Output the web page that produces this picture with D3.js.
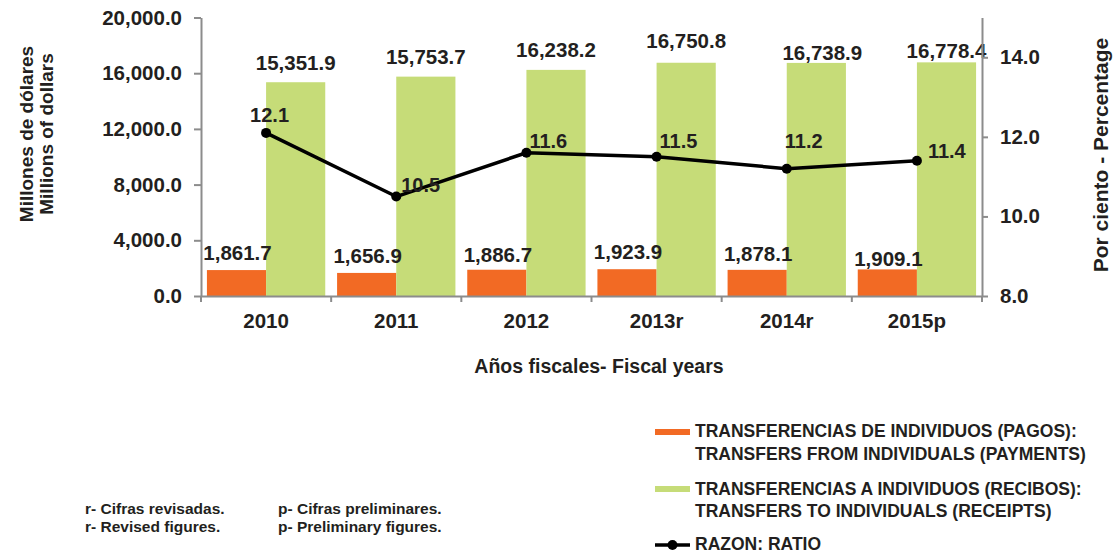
<!DOCTYPE html>
<html>
<head>
<meta charset="utf-8">
<script src="https://cdn.jsdelivr.net/npm/d3@7"></script>
<style>
  html, body { margin: 0; padding: 0; background: #fff; }
  svg { display: block; }
  text { font-family: "Liberation Sans", Arial, sans-serif; font-weight: bold; fill: #231f20; }
</style>
</head>
<body>
<svg id="chart" width="1115" height="555"></svg>
<script>
// data
const years = ['2010', '2011', '2012', '2013r', '2014r', '2015p']
const pagos = [1861.7, 1656.9, 1886.7, 1923.9, 1878.1, 1909.1]
const recibos = [15351.9, 15753.7, 16238.2, 16750.8, 16738.9, 16778.4]
const razon = [12.1, 10.5, 11.6, 11.5, 11.2, 11.4]
const leftTicks = [0, 4000, 8000, 12000, 16000, 20000]
const rightTicks = [8, 10, 12, 14]

// label nudges (layout only)
const pagosLabelDy = [-10, -10, -8, -10, -9, -3.5]
const recibosLabelDy = [-12, -13, -13, -15, -3, -4]
const recibosLabelDx = [0, 0, 0, 0, 6, 0]
const razonLabelNudge = [[-16, -11], [5, -5], [3, -5], [3, -9], [-2, -21], [11, -3]]

const ORANGE = '#f26a24'
const GREEN = '#c6dc78'
const AXIS = '#8c8c8c'

const svg = d3.select('#chart')
const fmt = d3.format(',.1f')

const x = d3.scaleBand().domain(years).range([201, 982]).padding(0)
const x1 = d3.scaleBand().domain(['pagos', 'recibos'])
	.range([0, x.bandwidth()]).paddingInner(0).paddingOuter(0.1)
const y = d3.scaleLinear().domain([0, 20000]).range([296, 17.5])
const y2 = d3.scaleLinear().domain([8, 15]).range([296, 17.5])

// bars
const groups = svg.append('g').selectAll('g')
	.data(years)
	.enter().append('g')
	.attr('transform', d => `translate(${x(d)},0)`)

groups.append('rect')
	.attr('x', x1('pagos'))
	.attr('width', x1.bandwidth())
	.attr('y', (d, i) => y(pagos[i]))
	.attr('height', (d, i) => y(0) - y(pagos[i]))
	.attr('fill', ORANGE)

groups.append('rect')
	.attr('x', x1('recibos'))
	.attr('width', x1.bandwidth())
	.attr('y', (d, i) => y(recibos[i]))
	.attr('height', (d, i) => y(0) - y(recibos[i]))
	.attr('fill', GREEN)

groups.append('text')
	.attr('x', x1('pagos') + x1.bandwidth() / 2 + 1)
	.attr('y', (d, i) => y(pagos[i]) + pagosLabelDy[i])
	.attr('text-anchor', 'middle')
	.style('font-size', '20.5px')
	.text((d, i) => fmt(pagos[i]))

groups.append('text')
	.attr('x', (d, i) => x1('recibos') + x1.bandwidth() / 2 + recibosLabelDx[i])
	.attr('y', (d, i) => y(recibos[i]) + recibosLabelDy[i])
	.attr('text-anchor', 'middle')
	.style('font-size', '20.5px')
	.text((d, i) => fmt(recibos[i]))

// axes
const leftAxis = svg.append('g')
	.attr('transform', 'translate(201,0)')
	.call(d3.axisLeft(y).tickValues(leftTicks).tickFormat(fmt)
		.tickSize(7).tickSizeOuter(0).tickPadding(12))

const rightAxis = svg.append('g')
	.attr('transform', 'translate(982,0)')
	.call(d3.axisRight(y2).tickValues(rightTicks).tickFormat(d3.format('.1f'))
		.tickSize(6).tickSizeOuter(0).tickPadding(12))

const bottomAxis = svg.append('g')
	.attr('transform', 'translate(0,296)')
	.call(d3.axisBottom(x).tickSize(0).tickPadding(17.5))

// category boundary ticks
bottomAxis.selectAll('.bound')
	.data(years.map(d => x(d)).concat([x.range()[1]]))
	.enter().append('line')
	.attr('class', 'bound')
	.attr('x1', d => d).attr('x2', d => d)
	.attr('y1', 0).attr('y2', 6)

;[leftAxis, rightAxis, bottomAxis].forEach(a => {
	a.select('.domain').attr('stroke', AXIS).attr('stroke-width', 2)
	a.selectAll('line').attr('stroke', AXIS).attr('stroke-width', 2)
	a.selectAll('text')
		.style('font-family', '"Liberation Sans", Arial, sans-serif')
		.style('font-weight', 'bold')
		.style('font-size', '20.5px')
		.attr('fill', '#231f20')
})

// ratio line
const cx = d => x(d) + x.bandwidth() / 2
const line = d3.line()
	.x((d, i) => cx(years[i]))
	.y(d => y2(d))

svg.append('path')
	.datum(razon)
	.attr('d', line)
	.attr('fill', 'none')
	.attr('stroke', '#000')
	.attr('stroke-width', 3.5)
	.attr('stroke-linejoin', 'round')

svg.append('g').selectAll('circle')
	.data(razon)
	.enter().append('circle')
	.attr('cx', (d, i) => cx(years[i]))
	.attr('cy', d => y2(d))
	.attr('r', 5)
	.attr('fill', '#000')

svg.append('g').selectAll('text')
	.data(razon)
	.enter().append('text')
	.attr('x', (d, i) => cx(years[i]) + razonLabelNudge[i][0])
	.attr('y', (d, i) => y2(d) + razonLabelNudge[i][1])
	.style('font-size', '20px')
	.text(d => d.toFixed(1))

// axis titles
svg.append('text')
	.attr('transform', 'translate(33,134) rotate(-90)')
	.attr('text-anchor', 'middle')
	.style('font-size', '19px')
	.text('Millones de dólares')
svg.append('text')
	.attr('transform', 'translate(53,134) rotate(-90)')
	.attr('text-anchor', 'middle')
	.style('font-size', '19px')
	.text('Millions of dollars')
svg.append('text')
	.attr('transform', 'translate(1108,155) rotate(-90)')
	.attr('text-anchor', 'middle')
	.style('font-size', '21px')
	.text('Por ciento - Percentage')
svg.append('text')
	.attr('x', 599).attr('y', 372.5)
	.attr('text-anchor', 'middle')
	.style('font-size', '19.5px')
	.text('Años fiscales- Fiscal years')

// legend
const legend = svg.append('g').attr('transform', 'translate(655,0)')
legend.append('rect').attr('x', 0).attr('y', 429).attr('width', 35).attr('height', 6).attr('fill', ORANGE)
legend.append('rect').attr('x', 0).attr('y', 486).attr('width', 35).attr('height', 6).attr('fill', GREEN)
legend.append('line').attr('x1', 0).attr('x2', 35).attr('y1', 545).attr('y2', 545)
	.attr('stroke', '#000').attr('stroke-width', 3.5)
legend.append('circle').attr('cx', 17.5).attr('cy', 545).attr('r', 5).attr('fill', '#000')

const legendLines = [
	['TRANSFERENCIAS DE INDIVIDUOS (PAGOS):', 437],
	['TRANSFERS FROM INDIVIDUALS (PAYMENTS)', 460],
	['TRANSFERENCIAS A INDIVIDUOS (RECIBOS):', 495],
	['TRANSFERS TO INDIVIDUALS (RECEIPTS)', 517],
	['RAZON: RATIO', 550]
]
legend.selectAll('text.leg')
	.data(legendLines)
	.enter().append('text')
	.attr('class', 'leg')
	.attr('x', 40)
	.attr('y', d => d[1])
	.style('font-size', '17.5px')
	.text(d => d[0])

// footnotes
const notes = [
	['r- Cifras revisadas.', 85, 514],
	['r- Revised figures.', 85, 532],
	['p- Cifras preliminares.', 278, 514],
	['p- Preliminary figures.', 278, 532]
]
svg.selectAll('text.note')
	.data(notes)
	.enter().append('text')
	.attr('class', 'note')
	.attr('x', d => d[1])
	.attr('y', d => d[2])
	.style('font-size', '15.5px')
	.text(d => d[0])
</script>
</body>
</html>
